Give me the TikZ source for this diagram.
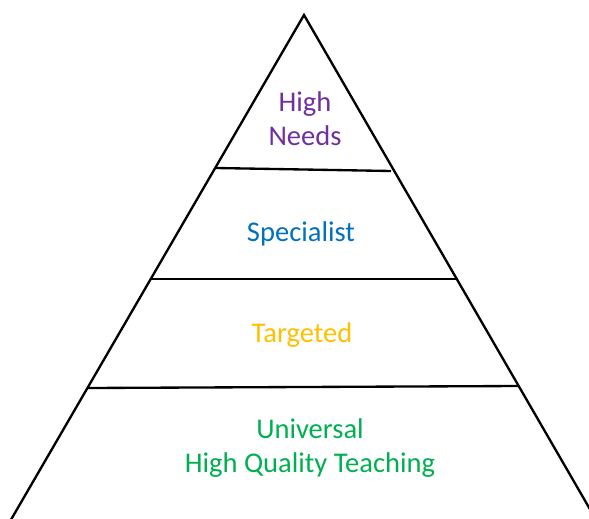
\documentclass[tikz,border=0pt]{standalone}
\usepackage{fontspec}
\setmainfont{Carlito}
\definecolor{needspurple}{HTML}{7030A0}
\definecolor{specialistblue}{HTML}{0070C0}
\definecolor{targetedgold}{HTML}{FFC000}
\definecolor{universalgreen}{HTML}{00B050}
\begin{document}
\begin{tikzpicture}
[x=0.75pt,y=-0.75pt,
  tierline/.style={-,line width=1.75pt},
  tierlabel/.style={font=\fontsize{21.4}{25.5}\selectfont,align=center,inner sep=0pt}]
\useasboundingbox (0,0) rectangle (589,518);
\clip (0,0) rectangle (589,518);
%% corners of the pyramid
\coordinate (apex) at (304,15);
\coordinate (baseleft) at (5,530);
\coordinate (baseright) at (602,530);
\draw[tierline,line join=miter] (baseleft) -- (apex) -- (baseright);
%% lines between the tiers
\foreach \tiername/\xl/\yl/\xr/\yr in {first/216/168/391/171,
  second/151/279/458/279, third/88/388/518/386} {
  \coordinate (\tiername west) at (\xl,\yl);
  \coordinate (\tiername east) at (\xr,\yr);
  \draw[tierline] (\tiername west) -- (\tiername east);
}
%% labels of the tiers
\foreach \labelname/\x/\y/\colour/\labeltext in {needs/305/119/needspurple/{High\\Needs},
  specialist/301/234/specialistblue/{Specialist},
  targeted/302/335/targetedgold/{Targeted},
  universal/310/448/universalgreen/{Universal\\High Quality Teaching}} {
  \node (\labelname) at (\x,\y) [tierlabel,text=\colour] {\labeltext};
}
\end{tikzpicture}
\end{document}
